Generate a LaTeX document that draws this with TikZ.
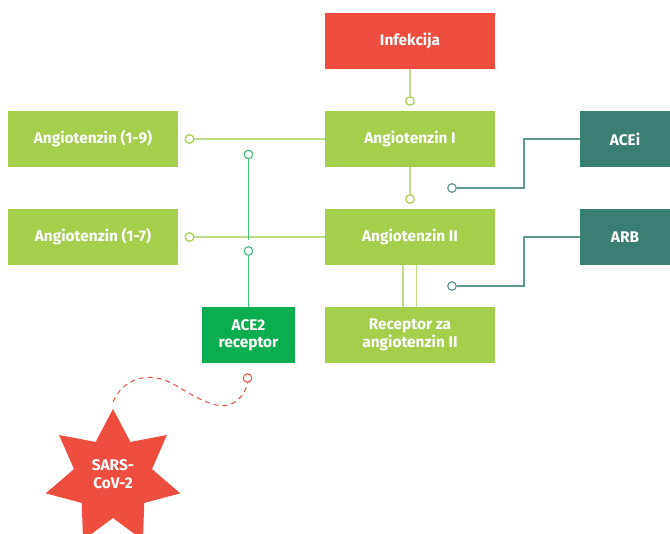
\documentclass[tikz,border=0pt]{standalone}
\usepackage{fontspec}
\setmainfont{Fira Sans}
\usetikzlibrary{calc}
\definecolor{cred}{HTML}{EF4E3E}
\definecolor{lgreen}{HTML}{A6CE4D}
\definecolor{lgline}{HTML}{C0DD8A}
\definecolor{dgreen}{HTML}{0AAD4F}
\definecolor{dgline}{HTML}{4CBF79}
\definecolor{teal}{HTML}{3A7F74}
\definecolor{tealline}{HTML}{5F9990}
\tikzset{
  box/.style={rectangle, minimum width=170pt, minimum height=56pt, inner sep=0pt,
    text=white, font=\fontsize{15.4}{17.5}\selectfont\bfseries, align=center},
  gbox/.style={box, fill=lgreen},
  rbox/.style={box, fill=cred},
  tbox/.style={box, fill=teal, minimum width=90pt},
  abox/.style={box, fill=dgreen, minimum width=93pt},
  endc/.style={circle, draw, fill=white, minimum size=8.6pt, inner sep=0pt, line width=1.2pt},
  lg/.style={draw=lgline, line width=1.5pt},
  dg/.style={draw=dgline, line width=1.5pt},
  tl/.style={draw=tealline, line width=1.5pt},
}
\begin{document}
\begin{tikzpicture}[x=1pt,y=-1pt]
\useasboundingbox (0,0) rectangle (670,534);
\clip (0,0) rectangle (670,534);
% boxes
\node[rbox] (inf) at (410,41) {Infekcija};
\node[gbox] (a1) at (410,139) {Angiotenzin I};
\node[gbox] (a2) at (410,237) {Angiotenzin II};
\node[gbox] (rec) at (410,335) {Receptor za\\angiotenzin II};
\node[gbox] (a19) at (93,139) {Angiotenzin (1-9)};
\node[gbox] (a17) at (93,237) {Angiotenzin (1-7)};
\node[abox] (ace2) at (248.5,335) {ACE2\\receptor};
\node[tbox] (acei) at (625,139) {ACEi};
\node[tbox] (arb) at (625,237) {ARB};
% star
\fill[cred, shift={(113,478)}] (-90:69)
  \foreach \i in {0,...,6} { -- ({-90+\i*360/7}:69) -- ({-90+\i*360/7+180/7}:40) } -- cycle;
\node[text=white, font=\fontsize{15.4}{18}\selectfont\bfseries, align=center] (sars) at (113,474) {SARS-\\CoV-2};
\coordinate (tip) at (113,402);
% end circles
\node[endc, draw=lgreen] (c1) at (410,101) {};
\node[endc, draw=lgreen] (c2) at (410,199) {};
\node[endc, draw=lgreen] (c19) at (189.5,139) {};
\node[endc, draw=lgreen] (c17) at (189.5,237) {};
\node[endc, draw=dgline] (cu) at (248.5,154.5) {};
\node[endc, draw=dgline] (cl) at (248.5,251) {};
\node[endc, draw=tealline] (ce) at (452,188) {};
\node[endc, draw=tealline] (cb) at (452,286) {};
\node[endc, draw=cred, line width=1pt] (cv) at (247.5,378) {};
\coordinate (j17) at (248.5,240.5);
% connectors
\draw[lg] (inf.south) -- (c1.north);
\draw[lg] (a1.south) -- (c2.north);
\draw[lg] (a1.west) -- (c19.east);
\draw[lg] (a2.west) -- (c17.east);
\draw[lg] ([xshift=-7pt]a2.south) -- ([xshift=-7pt]rec.north);
\draw[lg] ([xshift=6.5pt]a2.south) -- ([xshift=6.5pt]rec.north);
\draw[dg] (ace2.north) -- (cl.south);
\draw[dg] (j17) -- (cu.south);
\draw[tl] (acei.west) -| (524,188) -- (ce.east);
\draw[tl] (arb.west) -| (524,286) -- (cb.east);
\draw[cred, line width=1pt, dash pattern=on 5pt off 4pt]
  (tip) .. controls (123,378) and (150,370) .. (175,385)
  .. controls (200,400) and (220,412) .. (235,402)
  .. controls (243,396) and (246,390) .. (cv.south);
\end{tikzpicture}
\end{document}
